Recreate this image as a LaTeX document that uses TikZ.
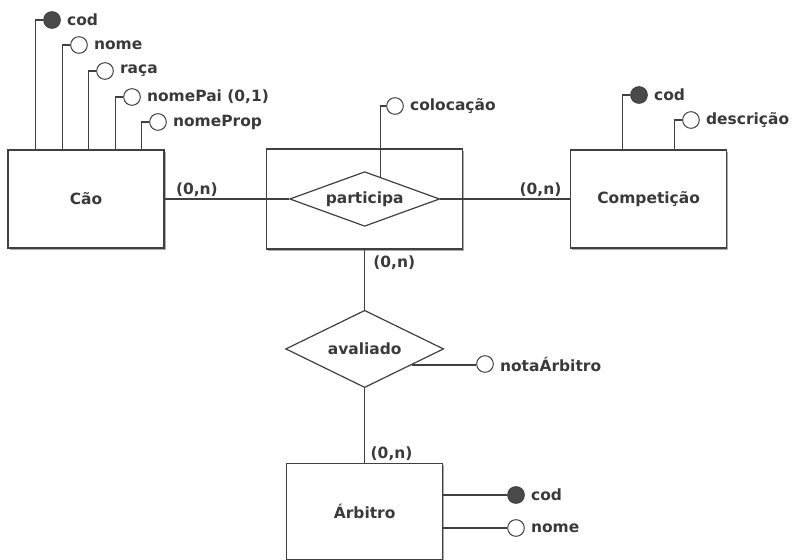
\documentclass[tikz,border=0pt]{standalone}
\usepackage{fontspec}
\setmainfont{DejaVu Sans}
\usetikzlibrary{positioning, shapes.geometric, shadows}
\definecolor{linegray}{HTML}{404040}
\definecolor{textgray}{HTML}{3A3A3A}
\definecolor{keygray}{HTML}{4A4A4A}

\begin{document}
\begin{tikzpicture}[
    x=0.75pt, y=-0.75pt,
    erfont/.style={font=\fontsize{11.6}{13}\selectfont\bfseries, text=textgray},
    entity/.style={rectangle, draw=linegray, fill=white, line width=1pt,
                   minimum width=117pt, minimum height=73.5pt, inner sep=0pt,
                   erfont,
                   drop shadow={shadow xshift=1.3pt, shadow yshift=-1.3pt, opacity=0.65}},
    assoc/.style={entity, minimum width=147pt, minimum height=75pt},
    rel/.style={diamond, draw=linegray, fill=white, line width=0.9pt,
                aspect=2.7, inner sep=0pt, erfont},
    attr/.style={circle, draw=linegray, fill=white, line width=0.75pt,
                 minimum size=12.5pt, inner sep=0pt},
    key/.style={attr, fill=keygray},
    lbl/.style={erfont, inner sep=0pt, xshift=4.5pt},
    conn/.style={draw=linegray, line width=1pt},
    card/.style={erfont, inner sep=1pt}
]
    \useasboundingbox (0,0) rectangle (793,560);

    % Entities
    \node[entity] (cao) at (86,199) {Cão};
    \node[assoc, right=76pt of cao] (partBox) {};
    \node[rel, minimum width=112.5pt, minimum height=41pt] (partDia) at (partBox) {participa};
    \node[entity, right=80pt of partBox] (comp) {Competição};
    \node[rel, minimum width=118.5pt, minimum height=58pt, below=45pt of partBox] (avalDia) {avaliado};
    \node[entity, minimum height=72pt, below=56pt of avalDia] (arb) {Árbitro};

    % Relationship lines
    \draw[conn] (cao) -- node[card, pos=0, above right, xshift=7pt] {(0,n)} (partDia);
    \draw[conn] (partDia) -- node[card, pos=1, above left, xshift=-5pt] {(0,n)} (comp);
    \draw[conn] (partBox) -- node[card, pos=0, below right, xshift=5pt, yshift=-3pt] {(0,n)} (avalDia);
    \draw[conn] (avalDia) -- node[card, pos=1, above right, xshift=3pt] {(0,n)} (arb);

    % Attributes of Cão
    \node[key,  label={[lbl]right:cod}] (caoCod) at (52,20) {};
    \node[attr, label={[lbl]right:nome}] (caoNome) at (79,45) {};
    \node[attr, label={[lbl]right:raça}] (caoRaca) at (105,71) {};
    \node[attr, label={[lbl]right:{nomePai (0,1)}}] (caoPai) at (132,97) {};
    \node[attr, label={[lbl]right:nomeProp}] (caoProp) at (158,122) {};
    \foreach \a in {caoCod, caoNome, caoRaca, caoPai, caoProp}
        \draw[conn] (cao.north -| \a.west) ++(-8,0) |- (\a.west);

    % Attributes of Competição
    \node[key,  label={[lbl]right:cod}] (compCod) at (639,95) {};
    \node[attr, label={[lbl]right:descrição}] (compDesc) at (691,120) {};
    \foreach \a in {compCod, compDesc}
        \draw[conn] (comp.north -| \a.west) ++(-8,0) |- (\a.west);

    % Relationship attributes
    \node[attr, label={[lbl]right:colocação}] (partColoc) at (395,106) {};
    \draw[conn] (partDia.54) |- (partColoc.west);
    \node[attr, label={[lbl]right:notaÁrbitro}] (avalNota) at (485,364) {};
    \draw[conn] (avalDia.-19) -- (avalDia.-19 -| avalNota.west);

    % Attributes of Árbitro
    \node[key,  label={[lbl]right:cod}] (arbCod) at (516,495) {};
    \node[attr, label={[lbl]right:nome}] (arbNome) at (516,528) {};
    \draw[conn] (arb.east |- arbCod) -- (arbCod.west);
    \draw[conn] (arb.east |- arbNome) -- (arbNome.west);
\end{tikzpicture}
\end{document}
